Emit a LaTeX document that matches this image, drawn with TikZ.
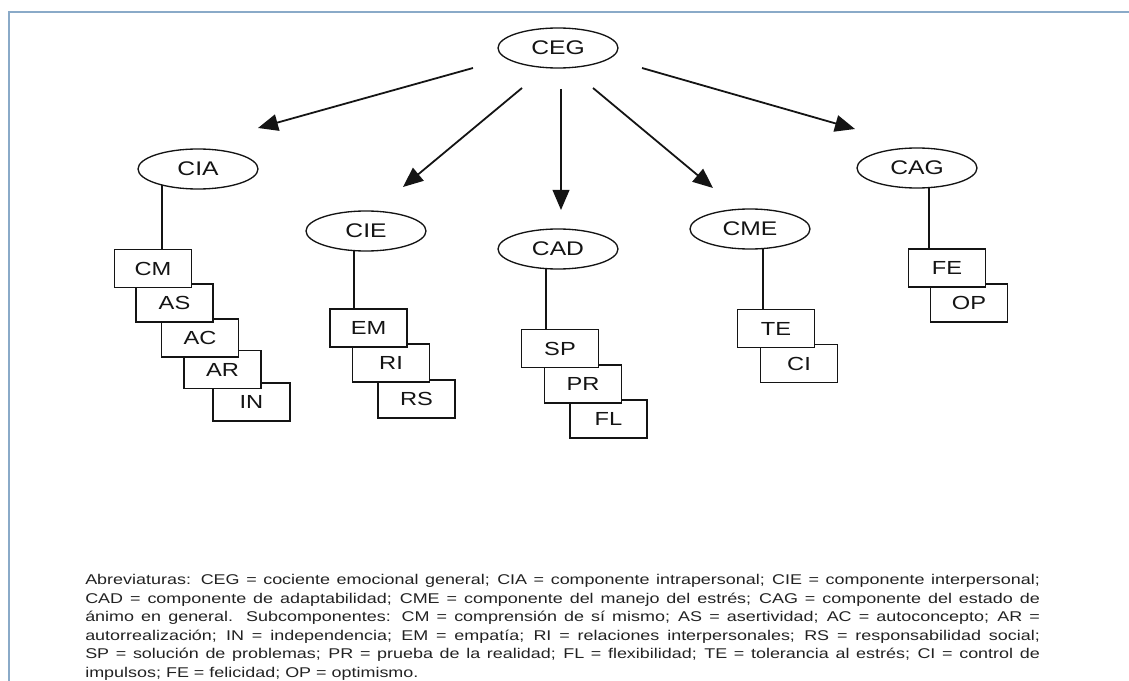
\documentclass[tikz,border=0pt]{standalone}
\usepackage{fontspec}
\setmainfont{Liberation Sans}
\newfontfamily\labelfont[FakeStretch=1.25]{Liberation Sans}
\newfontfamily\notefont[FakeStretch=1.27]{Liberation Sans}
\usetikzlibrary{shapes.geometric,arrows.meta,backgrounds}
\definecolor{frameblue}{HTML}{8AAAC8}
\definecolor{ink}{HTML}{141414}
\definecolor{notegray}{HTML}{222222}
\begin{document}
\begin{tikzpicture}[x=0.75pt,y=-0.75pt,
  comp/.style={ellipse,draw=ink,line width=1pt,fill=white,inner sep=0pt,
    minimum width=90pt,minimum height=30pt,text=ink,
    font=\labelfont\fontsize{14.8pt}{17pt}\selectfont},
  sub/.style={rectangle,draw=ink,line width=1.4pt,fill=white,inner sep=0pt,
    minimum width=57.75pt,minimum height=28.5pt,text=ink,
    font=\labelfont\fontsize{14.2pt}{17pt}\selectfont},
  branch/.style={draw=ink,line width=1.35pt,-{Triangle[length=15pt,width=12.5pt]}},
  stem/.style={draw=ink,line width=1.4pt}]
\useasboundingbox (0,0) rectangle (1129,681);
% frame
\draw[frameblue,line width=1.6pt] (9,681) -- (9,12) -- (1129,12);

% main components
\node[comp] (CEG) at (558,48) {CEG};
\node[comp] (CIA) at (198,169) {CIA};
\node[comp] (CIE) at (366,231) {CIE};
\node[comp] (CAD) at (558,249) {CAD};
\node[comp] (CME) at (750,229) {CME};
\node[comp] (CAG) at (917,168) {CAG};

% subcomponent stacks (drawn back to front)
\node[sub] (IN) at (251.5,402) {IN};
\node[sub] (AR) at (222.5,369.5) {AR};
\node[sub] (AC) at (200,338) {AC};
\node[sub] (AS) at (174.5,303) {AS};
\node[sub] (CM) at (153,268.5) {CM};

\node[sub] (RS) at (416.5,399) {RS};
\node[sub] (RI) at (391,363) {RI};
\node[sub] (EM) at (368.5,328) {EM};

\node[sub] (FL) at (608.5,419) {FL};
\node[sub] (PR) at (583,384) {PR};
\node[sub] (SP) at (560,348.5) {SP};

\node[sub] (CI) at (799,363.5) {CI};
\node[sub] (TE) at (776,328.5) {TE};

\node[sub] (OP) at (969,303) {OP};
\node[sub] (FE) at (947,268) {FE};

% arrow end points
\coordinate (sCIA) at (473,68);  \coordinate (eCIA) at (258,128);
\coordinate (sCIE) at (522,88);  \coordinate (eCIE) at (403,187);
\coordinate (sCAD) at (561,89);  \coordinate (eCAD) at (561,210);
\coordinate (sCME) at (593,88);  \coordinate (eCME) at (713,188);
\coordinate (sCAG) at (642,68);  \coordinate (eCAG) at (855,129);

\draw[branch] (sCIA) -- (eCIA);
\draw[branch] (sCIE) -- (eCIE);
\draw[branch] (sCAD) -- (eCAD);
\draw[branch] (sCME) -- (eCME);
\draw[branch] (sCAG) -- (eCAG);

% stems from each component to its first subcomponent
\coordinate (xCIA) at (162,0);
\coordinate (xCIE) at (354,0);
\coordinate (xCAD) at (546,0);
\coordinate (xCME) at (763,0);
\coordinate (xCAG) at (929,0);
\begin{scope}[on background layer]
\draw[stem] (CM.north -| xCIA) -- (CIA.center -| xCIA);
\draw[stem] (EM.north -| xCIE) -- (CIE.center -| xCIE);
\draw[stem] (SP.north -| xCAD) -- (CAD.center -| xCAD);
\draw[stem] (TE.north -| xCME) -- (CME.center -| xCME);
\draw[stem] (FE.north -| xCAG) -- (CAG.center -| xCAG);
\end{scope}

% legend
\node[anchor=north west,inner sep=0pt,text width=716pt,align=justify,
  text=notegray,font=\notefont\fontsize{10.6pt}{13.9pt}\selectfont] (note) at (85,574)
{Abreviaturas: CEG = cociente emocional general; CIA = componente intrapersonal; CIE = componente interpersonal;\linebreak
CAD = componente de adaptabilidad; CME = componente del manejo del estrés; CAG = componente del estado de\linebreak
ánimo en general. Subcomponentes: CM = comprensión de sí mismo; AS = asertividad; AC = autoconcepto; AR =\linebreak
autorrealización; IN = independencia; EM = empatía; RI = relaciones interpersonales; RS = responsabilidad social;\linebreak
SP = solución de problemas; PR = prueba de la realidad; FL = flexibilidad; TE = tolerancia al estrés; CI = control de\linebreak
impulsos; FE = felicidad; OP = optimismo.};
\end{tikzpicture}
\end{document}
